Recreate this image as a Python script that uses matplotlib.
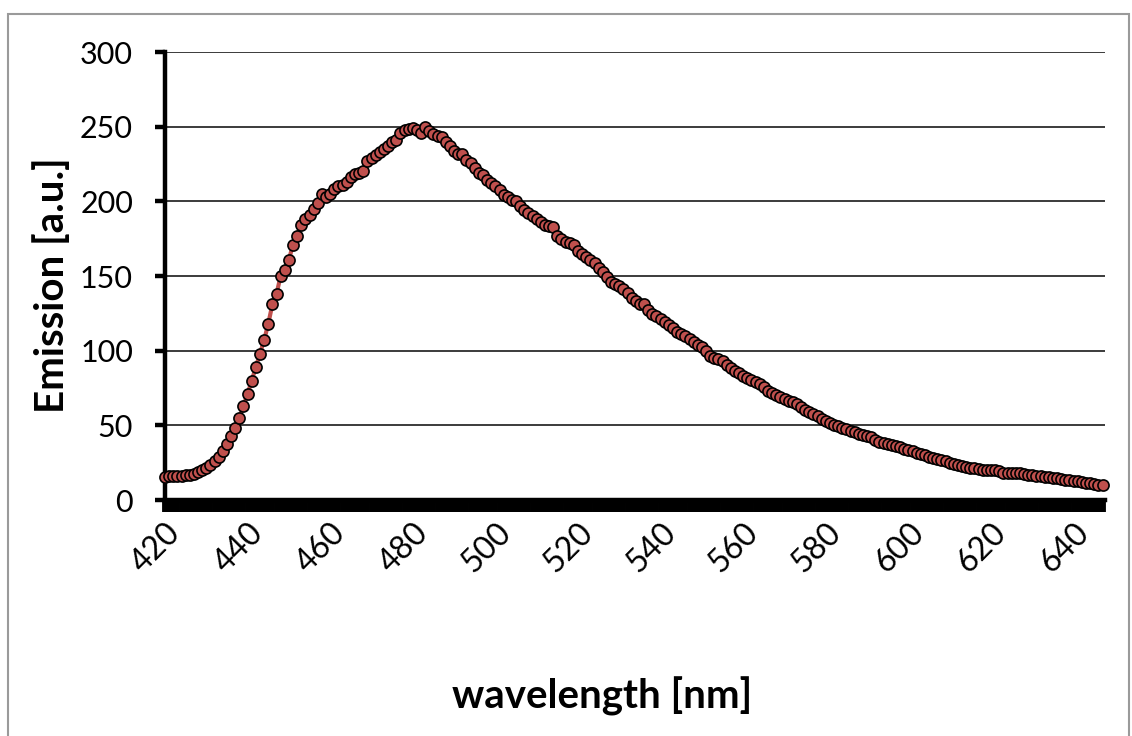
import numpy as np
import matplotlib
matplotlib.use("Agg")
import matplotlib.pyplot as plt
from matplotlib.patches import Rectangle
from matplotlib.transforms import ScaledTranslation

# wavelength grid (1 nm steps) and emission
wavelength = np.arange(420, 648)
emission = [
    15.5, 16, 16, 16, 16, 16.5, 17, 17.5, 18.5, 20,          # 420-429
    21.5, 23.5, 26, 29, 33, 37.5, 43, 48, 55, 63,            # 430-439
    71, 80, 89, 98, 107, 118, 131, 138, 150, 154,            # 440-449
    161, 171, 177, 184, 188, 191, 195, 199, 205, 203,        # 450-459
    205, 208, 210, 211, 213, 216, 218, 219, 220, 227,        # 460-469
    229, 231, 233, 235, 237, 240, 241, 246, 247.5, 248.5,    # 470-479
    249, 248, 246, 250, 247, 245, 244, 243, 240, 237,        # 480-489
    233.5, 232, 231.5, 228, 226, 222, 219, 217.5, 214, 212.5,  # 490-499
    210, 207.5, 204.5, 203, 201, 200, 197, 194.5, 192, 190,  # 500-509
    188.5, 186, 184, 183.5, 182.5, 177, 174.5, 173, 172, 170.5,  # 510-519
    167, 164.5, 162.5, 160.5, 158.5, 155.5, 152.5, 149, 146, 144.5,  # 520-529
    143, 141.5, 138.5, 135.5, 133, 131.5, 131, 127, 124.5, 123,  # 530-539
    121, 119, 117, 115.5, 112.5, 111, 109.5, 108, 105.5, 104,  # 540-549
    102.5, 99.5, 96.5, 95, 94.5, 93, 90.5, 88.5, 86.5, 85,   # 550-559
    83, 81.5, 80.5, 79, 77.5, 75.5, 73, 71.5, 70, 69,        # 560-569
    67.5, 66.5, 65.8, 64, 62, 60.5, 59, 57.5, 56.3, 54.5,    # 570-579
    52.8, 51.5, 50.5, 49.5, 48.3, 47.5, 46.5, 45.5, 44.5, 43.5,  # 580-589
    42.8, 42, 40.5, 39, 38, 37.3, 36.8, 36, 35.5, 34,        # 590-599
    33.3, 32.5, 31.7, 30.5, 29.8, 29, 28.3, 27.5, 26.6, 25.8,  # 600-609
    25, 24.3, 23.5, 23, 22.4, 21.7, 21.2, 20.8, 20.4, 20.1,  # 610-619
    20, 20, 19.2, 18.3, 17.9, 18, 17.8, 17.9, 17.3, 16.9,    # 620-629
    16.7, 16.4, 16, 15.6, 15.3, 14.9, 14.5, 14.2, 13.6, 13.2,  # 630-639
    12.9, 12.4, 12, 11.6, 11.2, 10.8, 10.2, 9.8,             # 640-647
]
x_labels = np.arange(420, 641, 20)
y_ticks = np.arange(0, 301, 50)

plt.rcParams["font.family"] = ["Lato", "DejaVu Sans"]

fig = plt.figure(figsize=(11.32, 7.36), dpi=100)
# grey chart-area border
fig.patches.append(Rectangle((8 / 1132, -0.01), 1121 / 1132, 1 - 14 / 736 + 0.01,
                             transform=fig.transFigure, fill=False,
                             edgecolor="#9a9a9a", linewidth=1.5))

ax = fig.add_axes([165 / 1132, 236 / 736, 940 / 1132, 448 / 736])

ax.plot(wavelength, emission, "-", color="#C0504D", linewidth=3, zorder=3)
ax.plot(wavelength, emission, "o", markerfacecolor="#C0504D",
        markeredgecolor="black", markeredgewidth=1.2, markersize=8,
        zorder=4, clip_on=False)

ax.set_xlim(420, 647.6)
ax.set_ylim(0, 300)
ax.set_yticks(y_ticks)
ax.set_xticks(x_labels)
ax.set_xticks(wavelength, minor=True)
ax.set_xticklabels([str(v) for v in x_labels], rotation=45,
                   ha="right", va="top", rotation_mode="anchor")
# Excel puts the rotated labels a little right of the tick
shift = ScaledTranslation(15 / 100, -2 / 100, fig.dpi_scale_trans)
for lbl in ax.get_xticklabels():
    lbl.set_transform(lbl.get_transform() + shift)

ax.grid(axis="y", color="#1a1a1a", linewidth=1.2, zorder=1)
for s in ["top", "right"]:
    ax.spines[s].set_visible(False)
ax.spines["left"].set_linewidth(3.2)
ax.spines["bottom"].set_linewidth(3.2)
ax.spines["bottom"].set_zorder(5)

ax.tick_params(axis="y", direction="out", length=7, width=3.2,
               labelsize=22, pad=16)
ax.tick_params(axis="x", which="major", direction="out", length=8.5,
               width=4.2, labelsize=23, pad=4)
ax.tick_params(axis="x", which="minor", direction="out", length=8.5,
               width=4.2)

ax.set_ylabel("Emission [a.u.]", fontsize=29, fontweight="bold")
ax.set_xlabel("wavelength [nm]", fontsize=29, fontweight="bold")
ax.yaxis.set_label_coords(-0.100, 0.48)
ax.xaxis.set_label_coords(0.465, -0.395)

fig.savefig("out.png", dpi=100)
